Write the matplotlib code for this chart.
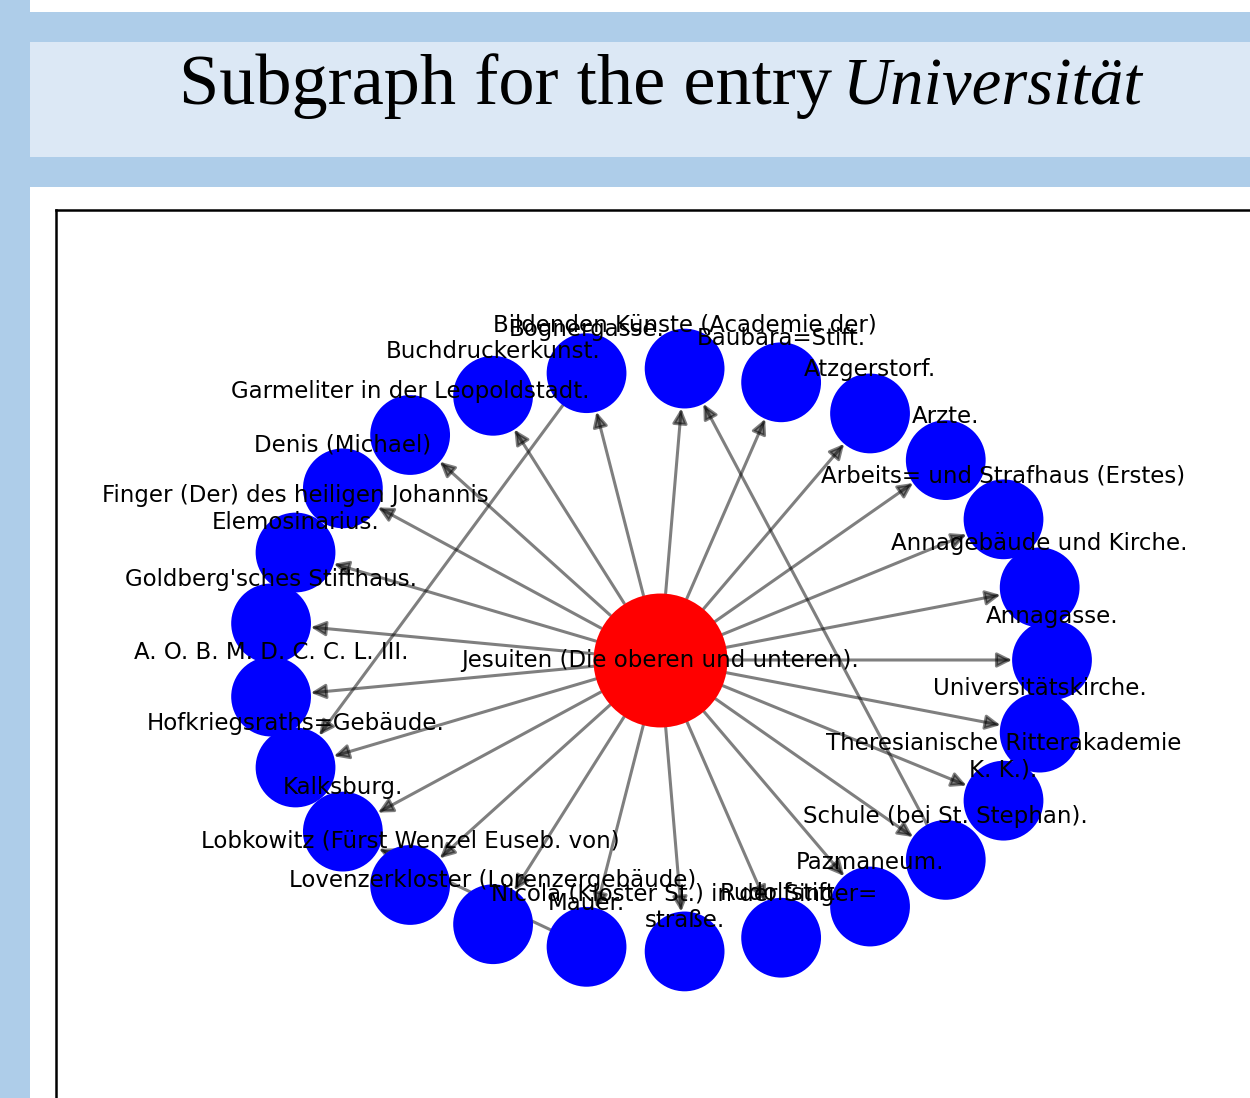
import numpy as np
import matplotlib.pyplot as plt
import matplotlib.patches as patches

# graph data
center = "Jesuiten (Die oberen und unteren)."
ring_nodes = [
    "Annagasse.",
    "Annagebäude und Kirche.",
    "Arbeits= und Strafhaus (Erstes)",
    "Arzte.",
    "Atzgerstorf.",
    "Baubara=Stift.",
    "Bildenden Künste (Academie der)",
    "Bognergasse.",
    "Buchdruckerkunst.",
    "Garmeliter in der Leopoldstadt.",
    "Denis (Michael)",
    "Finger (Der) des heiligen Johannis\nElemosinarius.",
    "Goldberg'sches Stifthaus.",
    "A. O. B. M. D. C. C. L. III.",
    "Hofkriegsraths=Gebäude.",
    "Kalksburg.",
    "Lobkowitz (Fürst Wenzel Euseb. von)",
    "Lovenzerkloster (Lorenzergebäude)",
    "Mauer.",
    "Nicola (Kloster St.) in der Singer=\nstraße.",
    "Rudolfstift.",
    "Pazmaneum.",
    "Schule (bei St. Stephan).",
    "Theresianische Ritterakademie\nK. K.).",
    "Universitätskirche.",
]
extra_edges = [
    ("Bognergasse.", "Hofkriegsraths=Gebäude."),
    ("Schule (bei St. Stephan).", "Bildenden Künste (Academie der)"),
    ("Mauer.", "Kalksburg."),
]
edges = [(center, n) for n in ring_nodes] + extra_edges

SLIDE_BLUE = '#aecde9'
BOX_BLUE = '#dce8f5'
W, H = 1250, 1098


def fig_rect(fig, x0, y0, x1, y1, color):
    # rectangle given in pixel coords measured from the top-left corner
    r = patches.Rectangle((x0 / W, 1 - y1 / H), (x1 - x0) / W, (y1 - y0) / H,
                          transform=fig.transFigure, fc=color, ec='none', zorder=0)
    fig.add_artist(r)


def create_subgraph_slide():
    fig = plt.figure(figsize=(W / 100, H / 100), dpi=100, facecolor=SLIDE_BLUE)

    # slide background pieces
    fig_rect(fig, 30, 0, W, 12, 'white')
    fig_rect(fig, 30, 42, W, 157, BOX_BLUE)
    fig_rect(fig, 30, 187, W, H, 'white')

    # title: regular part + italic entry name
    fig.text(832 / W, 1 - 104 / H, 'Subgraph for the entry', ha='right', va='baseline',
             fontsize=52, family='Liberation Serif', color='black')
    fig.text(843 / W, 1 - 104 / H, 'Universität', ha='left', va='baseline',
             fontsize=48, family='Liberation Serif', style='italic', color='black')

    # graph axes (frame runs off the right and bottom edge)
    lim = 1.54
    left_px, top_px = 660 - lim * 392, 660 - lim * 292
    ax = fig.add_axes([left_px / W, 1 - (top_px + 2 * lim * 292) / H,
                       2 * lim * 392 / W, 2 * lim * 292 / H])
    ax.set_xlim(-lim, lim)
    ax.set_ylim(-lim, lim)
    ax.set_xticks([])
    ax.set_yticks([])
    for s in ax.spines.values():
        s.set_linewidth(1.8)
        s.set_color('black')

    # circular layout for the ring, centre node in the middle
    n = len(ring_nodes)
    angles = 2 * np.pi * np.arange(n) / n
    pos = {name: (np.cos(a), np.sin(a)) for name, a in zip(ring_nodes, angles)}
    pos[center] = (0.0, 0.0)

    size = {name: 3300 for name in ring_nodes}
    size[center] = 9300

    # edges
    for a, b in edges:
        arr = patches.FancyArrowPatch(pos[a], pos[b], arrowstyle='-|>', mutation_scale=22,
                                      lw=2.2, color='black', alpha=0.5,
                                      shrinkA=np.sqrt(size[a]) / 2, shrinkB=np.sqrt(size[b]) / 2,
                                      zorder=1)
        ax.add_patch(arr)

    # nodes
    xs = [pos[k][0] for k in ring_nodes]
    ys = [pos[k][1] for k in ring_nodes]
    ax.scatter(xs, ys, s=[size[k] for k in ring_nodes], c='blue', linewidths=0, zorder=2)
    ax.scatter([0], [0], s=size[center], c='red', linewidths=0, zorder=2)

    # labels
    for name in ring_nodes:
        x, y = pos[name]
        ax.text(x, y + 0.15, name, ha='center', va='center', fontsize=16.5,
                family='DejaVu Sans', color='black', zorder=3)
    ax.text(0, 0, center, ha='center', va='center', fontsize=16.5,
            family='DejaVu Sans', color='black', zorder=3)

    plt.savefig('out.png', dpi=100, facecolor=fig.get_facecolor())
    plt.close()


if __name__ == "__main__":
    create_subgraph_slide()
